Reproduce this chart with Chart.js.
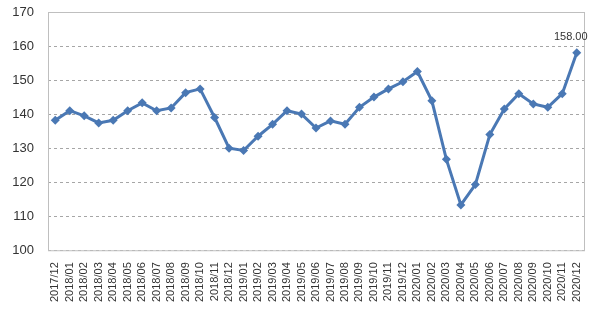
<!DOCTYPE html>
<html>
<head>
<meta charset="utf-8">
<script src="https://cdn.jsdelivr.net/npm/chart.js@4"></script>
<style>
  html, body { margin: 0; padding: 0; background: #fff; }
  #wrap { width: 600px; height: 314px; }
</style>
</head>
<body>
<div id="wrap"><canvas id="c" width="600" height="314"></canvas></div>
<script>
const months = [
  '2017/12', '2018/01', '2018/02', '2018/03', '2018/04', '2018/05', '2018/06',
  '2018/07', '2018/08', '2018/09', '2018/10', '2018/11', '2018/12',
  '2019/01', '2019/02', '2019/03', '2019/04', '2019/05', '2019/06',
  '2019/07', '2019/08', '2019/09', '2019/10', '2019/11', '2019/12',
  '2020/01', '2020/02', '2020/03', '2020/04', '2020/05', '2020/06',
  '2020/07', '2020/08', '2020/09', '2020/10', '2020/11', '2020/12',
];
const indexValues = [
  138.2, 141.0, 139.5, 137.4, 138.2, 141.0, 143.3,
  141.0, 141.8, 146.3, 147.4, 139.0, 130.0,
  129.3, 133.5, 137.0, 141.0, 140.0, 135.9,
  138.0, 137.0, 142.0, 145.0, 147.4, 149.5,
  152.5, 143.9, 126.7, 113.3, 119.3, 134.0,
  141.5, 146.0, 143.0, 142.0, 146.0, 158.0,
];
const yMin = 100, yMax = 170, yStep = 10;

// border around plot area + label on last point
const framePlugin = {
  id: 'frame',
  afterDraw(chart) {
    const { ctx, chartArea: a } = chart;
    ctx.save();
    ctx.strokeStyle = '#bfbfbf';
    ctx.lineWidth = 1;
    ctx.strokeRect(a.left + 0.5, a.top + 0.5, a.right - a.left, a.bottom - a.top);
    const meta = chart.getDatasetMeta(0);
    const last = meta.data[meta.data.length - 1];
    ctx.fillStyle = '#333';
    ctx.font = '11px "Liberation Sans", Arial, sans-serif';
    ctx.textAlign = 'center';
    ctx.textBaseline = 'bottom';
    ctx.fillText(indexValues[indexValues.length - 1].toFixed(2), last.x - 6, last.y - 10);
    ctx.restore();
  },
};

new Chart(document.getElementById('c'), {
  type: 'line',
  data: {
    labels: months,
    datasets: [{
      data: indexValues,
      borderColor: '#4a78b4',
      backgroundColor: '#4a78b4',
      borderWidth: 3,
      tension: 0,
      pointStyle: 'rectRot',
      pointRadius: 4.5,
      pointBorderWidth: 0,
    }],
  },
  options: {
    responsive: false,
    animation: false,
    layout: { padding: { left: 12, right: 16, top: 12, bottom: 8 } },
    plugins: { legend: { display: false }, tooltip: { enabled: false } },
    scales: {
      x: {
        offset: true,
        grid: { display: false },
        border: { display: false },
        ticks: {
          autoSkip: false,
          minRotation: 90,
          maxRotation: 90,
          color: '#333',
          padding: 4,
          font: { family: '"Liberation Sans", Arial, sans-serif', size: 11 },
        },
      },
      y: {
        min: yMin,
        max: yMax,
        afterFit(scale) { scale.width = 36; },
        grid: { color: '#a6a6a6', drawTicks: true, tickLength: 12, tickColor: 'rgba(0,0,0,0)' },
        border: { display: false, dash: [3, 3] },
        ticks: {
          stepSize: yStep,
          color: '#333',
          padding: 2,
          font: { family: '"Liberation Sans", Arial, sans-serif', size: 13 },
        },
      },
    },
  },
  plugins: [framePlugin],
});
</script>
</body>
</html>
